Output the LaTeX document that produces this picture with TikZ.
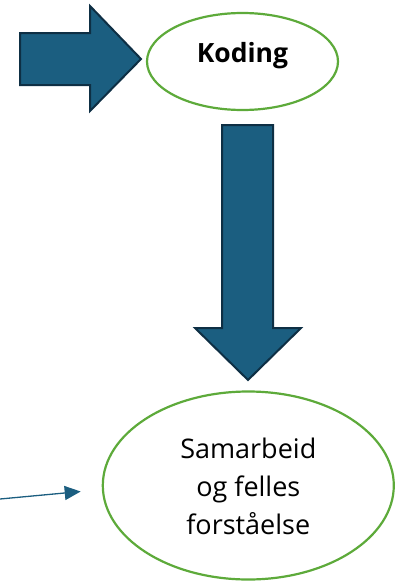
\documentclass[tikz,border=0pt]{standalone}
\usepackage{fontspec}
\setmainfont{Open Sans}
\usetikzlibrary{arrows.meta, positioning, shapes.geometric}
\definecolor{cteal}{HTML}{1B5E80}
\definecolor{cdark}{HTML}{0E2F44}
\definecolor{cgreen}{HTML}{5DAA3A}
\tikzset{
  every picture/.style={x=1pt, y=-1pt},
  blockarrow/.style={fill=cteal, draw=cdark, line width=2pt, line join=miter},
  bubble/.style={ellipse, draw=cgreen, line width=2.2pt, fill=white, align=center, inner sep=0pt},
  label/.style={font=\fontsize{27}{38}\selectfont, align=center},
  pointer/.style={-{Triangle[length=16pt, width=14pt]}, draw=cteal, line width=1.3pt},
}
\begin{document}
\begin{tikzpicture}
  \useasboundingbox (0,0) rectangle (403,581);
  % block arrows
  \draw[blockarrow] (20,33) -- (90,33) -- (90,6) -- (141,59) -- (90,111) -- (90,85) -- (20,85) -- cycle;
  \draw[blockarrow] (222,125) -- (273,125) -- (273,328) -- (301,328) -- (248,380) -- (195,328) -- (222,328) -- cycle;
  % ellipses
  \node[bubble, minimum width=191pt, minimum height=97pt] (koding) at (242.5,61.5) {};
  \node[label, font=\fontsize{26.5}{30}\selectfont\bfseries] (kodingtext) at ([yshift=6pt]koding.center) {Koding};
  \node[bubble, minimum width=291pt, minimum height=188pt] (samarbeid) at (248.3,485.5) {};
  \node[label] (samarbeidtext) at ([yshift=-1pt]samarbeid.center) {Samarbeid\\og felles\\forståelse};
  % pointer
  \coordinate (start) at (0,499);
  \draw[pointer] (start) -- ([xshift=-21pt, yshift=-6pt]samarbeid.west);
\end{tikzpicture}
\end{document}
